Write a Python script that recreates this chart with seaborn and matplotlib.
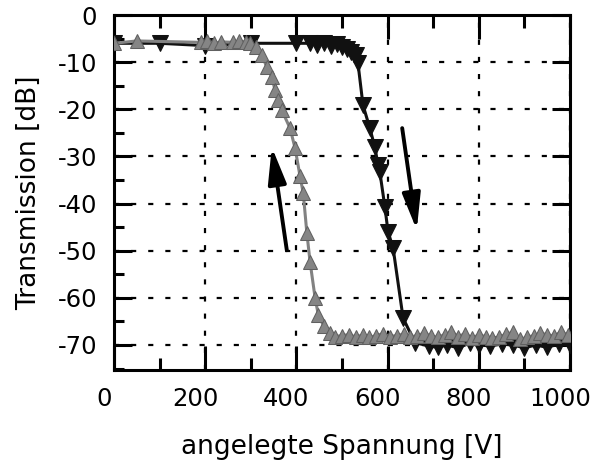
import numpy as np
import seaborn as sns
import matplotlib.pyplot as plt
from matplotlib.ticker import MultipleLocator
from matplotlib.transforms import ScaledTranslation

# rising voltage sweep (black, down triangles)
up_volt = [0, 100, 200, 300, 400, 430, 445, 460, 475, 490, 500, 510, 520, 530,
           535, 546, 561, 572, 579, 583, 594, 601, 612, 634,
           660, 690, 710, 730, 755, 780, 800, 825, 850, 875, 900, 925, 950, 975, 1000]
up_db = [-6, -6, -6.5, -6, -6, -6, -6.3, -6, -6.5, -6.2, -6.8, -7.2, -7.8, -8.5,
         -10.2, -19.1, -24, -28, -31.8, -33.3, -40.7, -46, -49.4, -64.3,
         -69.5, -70.2, -70.5, -70, -70.6, -69.6, -70, -70.2, -69.8, -70, -70.6, -70, -70.5, -69.8, -70]

# falling voltage sweep (grey, up triangles)
down_volt = [0, 50, 190, 205, 220, 235, 260, 275, 290, 298, 312, 324, 335, 346,
             353, 360, 368, 386, 397, 408, 415, 423, 430, 441, 448, 460, 474,
             485, 500, 515, 530, 545, 560, 575, 590, 605, 620, 635, 650, 665, 680,
             695, 710, 725, 740, 755, 770, 785, 800, 815, 830, 845, 860, 875, 890,
             905, 920, 935, 950, 965, 980, 995]
down_db = [-6, -5.5, -5.8, -5.5, -6, -5.7, -5.8, -5.5, -5.8, -6, -6.8, -8.5, -11, -13.1,
           -15.9, -18, -20.2, -24, -28.2, -34.2, -37.8, -46.3, -52.4, -60, -63.6, -66, -67.5,
           -68.2, -68, -67.8, -68.3, -67.9, -68.4, -68, -67.6, -68.2, -68, -67.7, -68.3, -68, -67.5,
           -68.1, -68.4, -67.8, -67.2, -68.2, -67.6, -68.5, -67.9, -68.2, -68.6, -68.3, -67.7, -67.3, -68.8,
           -68.4, -68, -67.5, -67.8, -68.1, -67.2, -67.9]

# arrows (tail -> tip)
arrow_down = [(632, -24), (664, -45.6)]
arrow_up = [(379, -49.9), (346, -28)]

sns.set_theme(style='ticks')
plt.rcParams['font.family'] = ['DejaVu Sans']
plt.rcParams['axes.unicode_minus'] = False

fig = plt.figure(figsize=(6, 4.63), dpi=100)
ax = fig.add_axes([0.19, 0.2009, 0.76, 0.7667])

sns.lineplot(x=up_volt, y=up_db, ax=ax, sort=False, color='#111111', lw=2.2,
             marker='v', markersize=11, markerfacecolor='#111111',
             markeredgecolor='#111111', zorder=3)
sns.lineplot(x=down_volt, y=down_db, ax=ax, sort=False, color='#828282', lw=2.2,
             marker='^', markersize=10.5, markerfacecolor='#858585',
             markeredgecolor='#606060', zorder=4)

for tail, tip in (arrow_down, arrow_up):
    ax.annotate('', xy=tip, xytext=tail,
                arrowprops=dict(arrowstyle='-|>,head_length=2.2,head_width=0.55',
                                lw=2.8, color='black', shrinkA=0, shrinkB=0,
                                mutation_scale=10), zorder=5)

ax.set_xlim(0, 1000)
ax.set_ylim(-75.3, 0)
ax.set_xticks([0, 200, 400, 600, 800, 1000])
ax.set_yticks([0, -10, -20, -30, -40, -50, -60, -70])
ax.xaxis.set_minor_locator(MultipleLocator(100))
ax.yaxis.set_minor_locator(MultipleLocator(5))

ax.grid(True, which='major', color='black', lw=1.6, linestyle=(0, (2.3, 5.4)))
ax.set_axisbelow(True)

for s in ax.spines.values():
    s.set_linewidth(2.2)
    s.set_color('black')

ax.tick_params(axis='both', which='both', direction='in', width=2.2, color='black',
               labelsize=17.5, pad=12, labelcolor='black')
ax.tick_params(axis='x', which='major', length=17, top=True)
ax.tick_params(axis='x', which='minor', length=9, top=True)
ax.tick_params(axis='y', which='major', length=13, right=True)
ax.tick_params(axis='y', which='minor', length=7, right=False)

ax.set_xlabel('angelegte Spannung [V]', fontsize=19, labelpad=17, color='black')
ax.set_ylabel('Transmission [dB]', fontsize=19, labelpad=11, color='black')

shift = ScaledTranslation(-0.1, 0, fig.dpi_scale_trans)
for lab in ax.get_xticklabels():
    lab.set_transform(lab.get_transform() + shift)

fig.savefig('out.png', dpi=100)
